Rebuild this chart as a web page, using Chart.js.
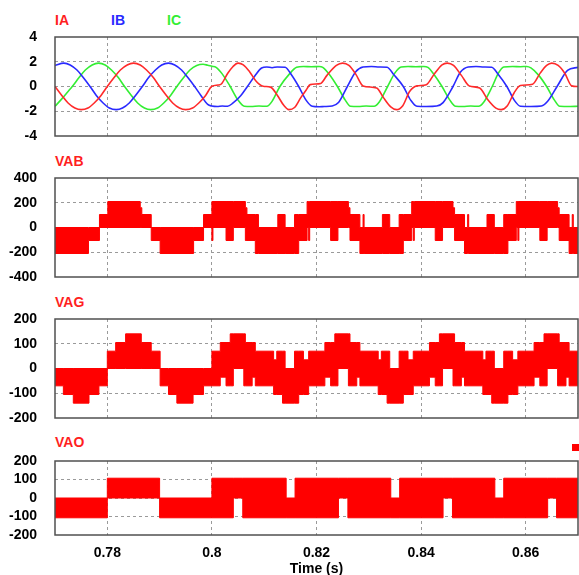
<!DOCTYPE html>
<html>
<head>
<meta charset="utf-8">
<script src="https://cdn.jsdelivr.net/npm/chart.js@4"></script>
<style>
  body { margin: 0; background: #fff; }
  #wrap { position: relative; width: 579px; height: 575px; overflow: hidden; background: #fff; }
  #wrap canvas { position: absolute; left: 0; }
  .ttl { position: absolute; font: bold 14px "Liberation Sans", Arial, sans-serif; line-height: 14px; white-space: nowrap; }
</style>
</head>
<body>
<div id="wrap">
  <div class="ttl" style="left:55px;top:13px;color:#ff1f1f">IA</div>
  <div class="ttl" style="left:111px;top:13px;color:#2929ff">IB</div>
  <div class="ttl" style="left:167px;top:13px;color:#33ee33">IC</div>
  <div class="ttl" style="left:55px;top:154px;color:#ff1f1f">VAB</div>
  <div class="ttl" style="left:55px;top:295px;color:#ff1f1f">VAG</div>
  <div class="ttl" style="left:55px;top:435px;color:#ff1f1f">VAO</div>
  <div style="position:absolute;left:572px;top:444px;width:7px;height:7px;background:#ff0000"></div>
  <canvas id="cur" width="579" height="123" style="top:25px"></canvas>
  <canvas id="vab" width="579" height="123" style="top:166px"></canvas>
  <canvas id="vag" width="579" height="123" style="top:307px"></canvas>
  <canvas id="vao" width="579" height="136" style="top:449px"></canvas>
</div>
<script>
// axis ticks
var timeTicks = [0.78, 0.8, 0.82, 0.84, 0.86];
var curTicks = [-4, -2, 0, 2, 4];
var vabTicks = [-400, -200, 0, 200, 400];
var vagTicks = [-200, -100, 0, 100, 200];
var vaoTicks = [-200, -100, 0, 100, 200];

// phase currents (A)
var iaT = [0.7700,0.7713,0.7725,0.7738,0.7750,0.7763,0.7775,0.7788,0.7800,0.7813,0.7825,0.7838,0.7850,0.7863,0.7875,0.7888,0.7900,0.7913,0.7925,0.7938,0.7950,0.7963,0.7975,0.7988,
  0.8000,0.8012,0.8018,0.8030,0.8040,0.8050,0.8060,0.8072,0.8085,0.8098,0.8112,0.8125,0.8137,0.8147,0.8158,0.8170,0.8180,0.8188,0.8208,0.8220,0.8238,0.8250,0.8262,0.8275,0.8289,
  0.8315,0.8328,0.8342,0.8353,0.8365,0.8378,0.8392,0.8410,0.8425,0.8440,0.8450,0.8462,0.8477,0.8492,0.8512,0.8528,0.8543,0.8553,0.8565,0.8578,0.8590,0.8613,0.8628,0.8640,0.8650,0.8662,0.8675,0.8688,0.8700];
var iaV = [0,-0.72,-1.33,-1.74,-1.87,-1.74,-1.33,-0.72,0,0.72,1.33,1.74,1.89,1.74,1.33,0.72,0,-0.72,-1.33,-1.74,-1.87,-1.74,-1.33,-0.72,
  0.02,0.12,0.2,1.05,1.6,1.89,1.75,1.2,0.4,0.02,-0.05,-0.7,-1.5,-1.87,-1.7,-0.9,-0.3,0.15,0.25,0.9,1.7,1.89,1.7,1.0,0.05,
  -0.12,-0.9,-1.65,-1.87,-1.55,-0.4,0.05,0.15,1.0,1.75,1.89,1.7,0.9,0.05,-0.12,-1.1,-1.75,-1.87,-1.55,-0.5,0.08,0.18,1.1,1.7,1.89,1.7,1.05,0.05,0.0];

var ibT = [0.7700,0.7717,0.7729,0.7742,0.7754,0.7767,0.7779,0.7792,0.7804,0.7817,0.7829,0.7842,0.7854,0.7867,0.7879,0.7892,0.7904,0.7917,0.7929,0.7942,0.7954,0.7967,0.7979,0.7992,
  0.8000,0.8010,0.8020,0.8030,0.8040,0.8055,0.8068,0.8082,0.8095,0.8105,0.8115,0.8125,0.8140,0.8152,0.8166,0.8180,0.8192,0.8205,0.8215,0.8230,0.8242,0.8259,0.8275,0.8289,0.8305,0.8320,
  0.8335,0.8348,0.8366,0.8380,0.8392,0.8410,0.8430,0.8442,0.8461,0.8475,0.8490,0.8505,0.8520,0.8535,0.8548,0.8564,0.8578,0.8590,0.8610,0.8630,0.8642,0.8660,0.8680,0.8700];
var ibV = [1.70,1.89,1.74,1.33,0.72,0,-0.72,-1.33,-1.74,-1.87,-1.74,-1.33,-0.72,0,0.72,1.33,1.74,1.89,1.74,1.33,0.72,0,-0.72,-1.45,
  -1.58,-1.62,-1.58,-1.60,-1.35,-0.75,0,0.85,1.5,1.58,1.52,1.58,1.55,0.95,0,-1.10,-1.60,-1.64,-1.62,-1.58,-1.30,0,1.20,1.58,1.62,1.58,
  1.55,0.95,0,-1.10,-1.60,-1.62,-1.58,-1.30,0,1.15,1.58,1.62,1.58,1.55,0.95,0,-1.10,-1.60,-1.62,-1.58,-1.20,0,1.30,1.55];

var icT = [0.7700,0.7713,0.7725,0.7733,0.7746,0.7758,0.7771,0.7783,0.7796,0.7808,0.7821,0.7833,0.7846,0.7858,0.7871,0.7883,0.7896,0.7908,0.7921,0.7933,0.7946,0.7958,0.7971,0.7983,0.7992,
  0.8000,0.8008,0.8020,0.8035,0.8050,0.8062,0.8075,0.8090,0.8105,0.8115,0.8130,0.8148,0.8162,0.8175,0.8190,0.8205,0.8212,0.8225,0.8240,0.8255,0.8265,0.8280,0.8295,0.8310,0.8320,
  0.8336,0.8350,0.8362,0.8375,0.8390,0.8405,0.8413,0.8425,0.8440,0.8455,0.8466,0.8480,0.8495,0.8510,0.8520,0.8536,0.8548,0.8558,0.8575,0.8590,0.8602,0.8610,0.8625,0.8640,0.8655,0.8665,0.8685,0.8700];
var icV = [-1.60,-1.00,-0.40,0,0.72,1.33,1.74,1.89,1.74,1.33,0.72,0,-0.72,-1.33,-1.74,-1.87,-1.74,-1.33,-0.72,0,0.72,1.33,1.70,1.80,1.72,
  1.63,1.55,1.00,0,-1.10,-1.60,-1.62,-1.58,-1.60,-1.20,0,1.00,1.55,1.62,1.60,1.62,1.55,0.95,0,-1.10,-1.60,-1.62,-1.58,-1.60,-1.25,
  0,1.10,1.58,1.62,1.60,1.62,1.55,0.95,0,-1.10,-1.60,-1.62,-1.58,-1.60,-1.25,0,1.10,1.58,1.62,1.60,1.62,1.50,0.90,0,-1.10,-1.60,-1.62,-1.60];

// PWM voltages: the switching fills a band, so each trace is kept as
// the upper and lower level of that band from each switching time on
var vabT = [0.7700,0.7764,0.7785,0.7801,0.7863,0.7866,0.7884,0.7901,0.7965,0.7984,
  0.8000,0.8002,0.8027,0.8041,0.8064,0.8067,0.8083,0.8089,0.8126,0.8140,0.8158,0.8166,
  0.8182,0.8185,0.8187,0.8227,0.8241,0.8261,0.8264,0.8283,0.8289,0.8291,0.8326,0.8340,0.8358,0.8366,
  0.8382,0.8385,0.8387,0.8427,0.8441,0.8461,0.8464,0.8483,0.8489,0.8491,0.8526,0.8540,0.8558,0.8566,
  0.8582,0.8585,0.8587,0.8627,0.8641,0.8661,0.8664,0.8683,0.8689,0.8691,0.8700];
var vabHi = [0,0,105,210,160,105,0,0,0,105,
  210,210,210,210,160,105,105,0,105,0,105,105,
  210,210,210,210,210,160,105,0,105,0,105,0,105,105,
  210,210,210,210,210,160,105,0,105,0,105,0,105,105,
  210,210,210,210,210,160,105,0,105,0,0];
var vabLo = [-210,-105,0,0,0,0,-105,-210,-105,0,
  -105,0,-105,0,-105,-105,-210,-210,-210,-210,-210,-105,
  0,-105,0,-105,0,0,-105,-210,-210,-210,-210,-210,-210,-105,
  0,-105,0,-105,0,0,-105,-210,-210,-210,-210,-210,-210,-105,
  0,-105,0,-105,0,0,-105,-210,-210,-210,-210];

var vagT = [0.7700,0.7716,0.7735,0.7765,0.7784,0.7800,0.7816,0.7835,0.7865,0.7884,0.7901,0.7917,0.7933,0.7964,0.7984,
  0.8000,0.8016,0.8027,0.8035,0.8041,0.8061,0.8064,0.8077,0.8083,0.8118,0.8124,0.8135,0.8140,0.8158,0.8166,0.8175,0.8185,
  0.8200,0.8216,0.8227,0.8235,0.8241,0.8261,0.8264,0.8277,0.8283,0.8318,0.8324,0.8335,0.8340,0.8358,0.8366,0.8375,0.8385,
  0.8400,0.8416,0.8427,0.8435,0.8441,0.8461,0.8464,0.8477,0.8483,0.8518,0.8524,0.8535,0.8540,0.8558,0.8566,0.8575,0.8585,
  0.8600,0.8616,0.8627,0.8635,0.8641,0.8661,0.8664,0.8677,0.8683,0.8700];
var vagHi = [0,0,0,0,0,70,105,140,105,70,0,0,0,0,0,
  70,105,105,140,140,140,105,105,70,35,70,70,0,70,70,35,70,
  70,105,105,140,140,140,105,105,70,35,70,70,0,70,70,35,70,
  70,105,105,140,140,140,105,105,70,35,70,70,0,70,70,35,70,
  70,105,105,140,140,140,105,105,70,70];
var vagLo = [-70,-105,-140,-105,-70,0,0,0,0,0,-70,-105,-140,-105,-70,
  -70,-35,-70,-70,0,-70,-70,-35,-70,-105,-105,-140,-140,-140,-105,-105,-70,
  -70,-35,-70,-70,0,-70,-70,-35,-70,-105,-105,-140,-140,-140,-105,-105,-70,
  -70,-35,-70,-70,0,-70,-70,-35,-70,-105,-105,-140,-140,-140,-105,-105,-70,
  -70,-35,-70,-70,0,-70,-70,-35,-70,-70];

var vaoT = [0.7700,0.7800,0.7900,0.8000,0.8041,0.8059,0.8142,0.8159,0.8242,0.8260,0.8342,0.8359,0.8442,0.8460,0.8541,0.8558,0.8642,0.8659,0.8700];
var vaoHi = [0,107,0,107,107,107,0,107,107,107,0,107,107,107,0,107,107,107,107];
var vaoLo = [-107,0,-107,-107,0,-107,-107,-107,0,-107,-107,-107,0,-107,-107,-107,0,-107,-107];

var FONT = '"Liberation Sans", Arial, sans-serif';
var RED = '#ff0000';

function pts(t, v) {
  var out = [];
  for (var i = 0; i < Math.min(t.length, v.length); i++) out.push({x: t[i], y: v[i]});
  return out;
}

function curve(t, v, color) {
  return {data: pts(t, v), borderColor: color, borderWidth: 1.6, pointRadius: 0,
    cubicInterpolationMode: 'monotone', fill: false};
}

function band(t, hi, lo, color) {
  return [
    {data: pts(t, hi), stepped: 'before', borderColor: color, borderWidth: 1, pointRadius: 0, fill: false},
    {data: pts(t, lo), stepped: 'before', borderColor: color, borderWidth: 1, pointRadius: 0,
      fill: '-1', backgroundColor: color}
  ];
}

// dark frame round the plot area
var boxPlugin = {
  id: 'box',
  afterDatasetsDraw: function (chart) {
    var a = chart.chartArea, ctx = chart.ctx;
    ctx.save();
    ctx.strokeStyle = '#505050';
    ctx.lineWidth = 1.5;
    ctx.strokeRect(a.left, a.top, a.right - a.left, a.bottom - a.top);
    ctx.restore();
  }
};

function gridColor(ticks) {
  return function (c) {
    if (!c.tick) return 'rgba(0,0,0,0)';
    var v = c.tick.value;
    if (v === ticks[0] || v === ticks[ticks.length - 1]) return 'rgba(0,0,0,0)';
    return '#9a9a9a';
  };
}

function panel(id, datasets, yTicks, withTime) {
  return new Chart(document.getElementById(id), {
    type: 'line',
    data: {datasets: datasets},
    plugins: [boxPlugin],
    options: {
      responsive: false,
      animation: false,
      events: [],
      layout: {padding: {top: 12, right: 1, left: 0, bottom: withTime ? 0 : 12}},
      plugins: {legend: {display: false}, tooltip: {enabled: false}},
      scales: {
        x: {
          type: 'linear',
          min: 0.77,
          max: 0.87,
          afterBuildTicks: function (s) { s.ticks = timeTicks.map(function (v) { return {value: v}; }); },
          afterFit: function (s) { s.height = withTime ? 50 : 0; },
          grid: {color: gridColor([]), lineWidth: 1, drawTicks: false},
          border: {display: false, dash: [3, 3]},
          ticks: {
            display: withTime,
            autoSkip: false,
            padding: 10,
            color: '#000',
            font: {family: FONT, size: 14, weight: 'bold'},
            maxRotation: 0,
            callback: function (v) { return String(v); }
          },
          title: {
            display: withTime,
            text: 'Time (s)',
            color: '#000',
            padding: {top: 0, bottom: 7},
            font: {family: FONT, size: 14, weight: 'bold'}
          }
        },
        y: {
          min: yTicks[0],
          max: yTicks[yTicks.length - 1],
          afterBuildTicks: function (s) { s.ticks = yTicks.map(function (v) { return {value: v}; }); },
          // fixed axis width; the label overhang is left to the layout padding
          afterFit: function (s) { s.width = 55; s.paddingTop = 0; s.paddingBottom = 0; },
          grid: {color: gridColor(yTicks), lineWidth: 1, drawTicks: false},
          border: {display: false, dash: [3, 3]},
          ticks: {
            autoSkip: false,
            padding: 18,
            color: '#000',
            font: {family: FONT, size: 14, weight: 'bold'},
            callback: function (v) { return String(v); }
          }
        }
      }
    }
  });
}

panel('cur', [
  curve(iaT, iaV, '#ff2a2a'),
  curve(ibT, ibV, '#2a2aff'),
  curve(icT, icV, '#33ee33')
], curTicks, false);

panel('vab', band(vabT, vabHi, vabLo, RED), vabTicks, false);
panel('vag', band(vagT, vagHi, vagLo, RED), vagTicks, false);
panel('vao', band(vaoT, vaoHi, vaoLo, RED), vaoTicks, true);
</script>
</body>
</html>
